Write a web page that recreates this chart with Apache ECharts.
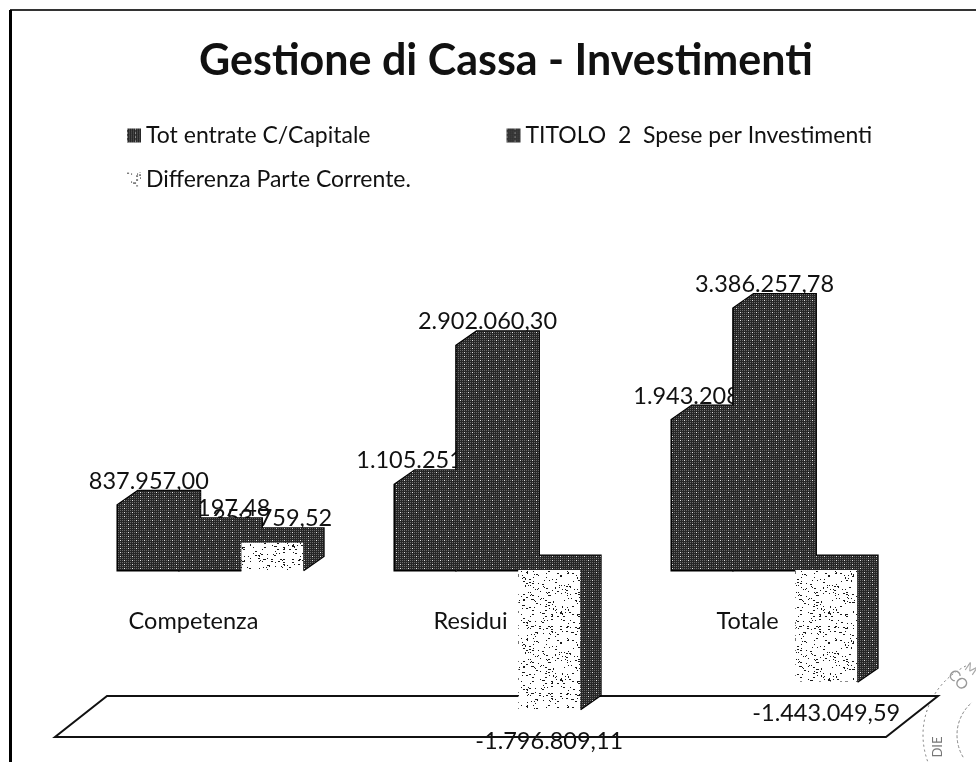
<!DOCTYPE html>
<html>
<head>
<meta charset="utf-8">
<style>html,body{margin:0;padding:0;background:#fff}#c{width:976px;height:762px}</style>
<script src="https://cdn.jsdelivr.net/npm/echarts@6/dist/echarts.min.js"></script>
</head>
<body>
<div id="c"></div>
<script>
const categories = ['Competenza', 'Residui', 'Totale'];
const entrate = [837957.00, 1105251.19, 1943208.19];
const spese = [484197.48, 2902060.30, 3386257.78];
const differenza = [353759.52, -1796809.11, -1443049.59];
const seriesNames = ['Tot entrate C/Capitale', 'TITOLO  2  Spese per Investimenti', 'Differenza Parte Corrente.'];
const axisMin = -2160000;
const axisMax = 4000000;

function fmt(v) {
  const s = Math.abs(v).toFixed(2).split('.');
  return (v < 0 ? '-' : '') + s[0].replace(/\B(?=(\d{3})+$)/g, '.') + ',' + s[1];
}
// scan-like textures (surface styling only, not data)
function darkTile() {
  const c = document.createElement('canvas'); c.width = c.height = 60;
  const g = c.getContext('2d');
  g.fillStyle = '#262626'; g.fillRect(0, 0, 60, 60);
  for (let y = 0; y < 60; y++) for (let x = 0; x < 60; x++) {
    if ((x + y) % 2 === 0 && y % 2 === 0) { g.fillStyle = '#6a6a6a'; g.fillRect(x, y, 1, 1); }
    if (x % 4 === 0 && y % 4 === 0 && (x * 7 + y * 3) % 11 < 5) { g.fillStyle = '#e6e6e6'; g.fillRect(x, y, 1, 1); }
  }
  return c;
}
function stippleTile() {
  const c = document.createElement('canvas'); c.width = c.height = 67;
  const g = c.getContext('2d');
  g.fillStyle = '#fff'; g.fillRect(0, 0, 67, 67);
  g.fillStyle = '#1a1a1a';
  for (let y = 0; y < 67; y++) for (let x = 0; x < 67; x++) {
    if ((x * x * 13 + y * y * 29 + x * y * 5 + x * 3) % 67 < 4) g.fillRect(x, y, (x % 3 === 0) ? 2 : 1, 1);
  }
  return c;
}
const darkFill = { image: darkTile(), repeat: 'repeat' };
const stippleFill = { image: stippleTile(), repeat: 'repeat' };
const labelFont = '23.5px Lato';
const layerOf = [11, 10, 12];

function barRenderer(idx, frontFill) {
  return function (params, api) {
    const i = api.value(0), v = api.value(1);
    const band = api.size([1, 0])[0];
    const w = band * 0.2228, dx = w * 0.325, dy = 14;
    const base = api.coord([i, 0]);
    const top = api.coord([i, v]);
    const x0 = base[0] - band * 0.2727 + idx * w, x1 = x0 + w;
    const yb = base[1], yt = top[1];
    const hiY = Math.min(yb, yt), loY = Math.max(yb, yt);
    const z = layerOf[idx];
    const outlinePts = idx === 2
      ? [[x0 + dx, hiY - dy], [x1 + dx, hiY - dy], [x1 + dx, loY - dy], [x1, loY]]
      : [[x1, loY], [x0, loY], [x0, hiY], [x0 + dx, hiY - dy], [x1 + dx, hiY - dy], [x1 + dx, loY - dy]];
    const seam = { stroke: darkFill, lineWidth: 1 };
    const children = [
      { type: 'text', z2: 1, style: {
        text: fmt(v), x: (x0 + x1) / 2, y: v >= 0 ? yt - 24 : yt + 32,
        align: 'center', verticalAlign: 'middle', font: labelFont, fill: '#111' } },
      { type: 'polyline', z2: 5, shape: { points: outlinePts }, style: { stroke: '#000', lineWidth: 3, fill: 'none' } },
      { type: 'polygon', z2: z, shape: { points: [[x1, yb], [x1 + dx, yb - dy], [x1 + dx, yt - dy], [x1, yt]] },
        style: Object.assign({ fill: darkFill }, seam) },
      { type: 'polygon', z2: z, shape: { points: [[x0, hiY], [x0 + dx, hiY - dy], [x1 + dx, hiY - dy], [x1, hiY]] },
        style: Object.assign({ fill: darkFill }, seam) },
      { type: 'rect', z2: z, shape: { x: x0, y: hiY, width: w, height: loY - hiY }, style: { fill: frontFill } }
    ];
    return { type: 'group', children };
  };
}
function floorRenderer(params) {
  const r = params.coordSys;
  const yf = r.y + r.height, dx = 52, dy = 41;
  return { type: 'polygon', z2: 0,
    shape: { points: [[r.x, yf], [r.x + r.width, yf], [r.x + r.width + dx, yf - dy], [r.x + dx, yf - dy]] },
    style: { fill: '#fff', stroke: '#111', lineWidth: 2 } };
}
function rows(arr) { return arr.map((v, i) => [i, v]); }

const chart = echarts.init(document.getElementById('c'), null, { renderer: 'canvas' });
chart.setOption({
  animation: false,
  backgroundColor: '#fff',
  title: { text: 'Gestione di Cassa - Investimenti', left: 501, textAlign: 'center', top: 35,
    textStyle: { fontFamily: 'Lato', fontWeight: 'bold', fontSize: 43, color: '#111' } },
  legend: [
    { data: seriesNames.slice(0, 2), left: 122, top: 119, itemWidth: 14, itemHeight: 14, itemGap: 136, icon: 'rect',
      textStyle: { fontFamily: 'Lato', fontSize: 23, color: '#111' } },
    { data: seriesNames.slice(2), left: 122, top: 163, itemWidth: 14, itemHeight: 14, icon: 'rect',
      textStyle: { fontFamily: 'Lato', fontSize: 23, color: '#111' } }
  ],
  grid: { left: 55, width: 831, top: 261, height: 476, outerBoundsMode: 'none' },
  xAxis: { type: 'category', data: categories,
    axisLine: { show: false, onZero: false }, axisTick: { show: false },
    axisLabel: { margin: -128, fontFamily: 'Lato', fontSize: 23.5, color: '#111' } },
  yAxis: { type: 'value', min: axisMin, max: axisMax, show: false, splitLine: { show: false } },
  series: [
    { type: 'custom', name: 'floor', data: [[0, axisMin]], renderItem: floorRenderer, silent: true, encode: { x: 0, y: 1 } },
    { type: 'custom', name: seriesNames[0], data: rows(entrate), itemStyle: { color: darkFill }, renderItem: barRenderer(0, darkFill), encode: { x: 0, y: 1 } },
    { type: 'custom', name: seriesNames[1], data: rows(spese), itemStyle: { color: darkFill }, renderItem: barRenderer(1, darkFill), encode: { x: 0, y: 1 } },
    { type: 'custom', name: seriesNames[2], data: rows(differenza), itemStyle: { color: stippleFill }, renderItem: barRenderer(2, stippleFill), encode: { x: 0, y: 1 } }
  ],
  graphic: [
    { type: 'line', shape: { x1: 10, y1: 10, x2: 976, y2: 10 }, style: { stroke: '#333', lineWidth: 2 }, silent: true },
    { type: 'line', shape: { x1: 10.5, y1: 10, x2: 10.5, y2: 762 }, style: { stroke: '#000', lineWidth: 3 }, silent: true },
    { type: 'arc', shape: { cx: 1000, cy: 735, r: 77, startAngle: 2.6, endAngle: 4.3 }, style: { stroke: '#777', fill: 'none', lineWidth: 1, lineDash: [2, 3] }, silent: true },
    { type: 'arc', shape: { cx: 1000, cy: 735, r: 43, startAngle: 2.6, endAngle: 4.0 }, style: { stroke: '#888', fill: 'none', lineWidth: 1, lineDash: [3, 2] }, silent: true },
    { type: 'text', x: 938, y: 747, rotation: Math.PI / 2, silent: true, style: { text: 'DIE', font: '13px Lato', fill: '#777', align: 'center', verticalAlign: 'middle' } },
    { type: 'text', x: 958, y: 680, rotation: -0.85, silent: true, style: { text: 'CO', font: '15px Lato', fill: '#999', align: 'center', verticalAlign: 'middle' } },
    { type: 'text', x: 971, y: 669, rotation: -0.6, silent: true, style: { text: 'M', font: '13px Lato', fill: '#aaa', align: 'center', verticalAlign: 'middle' } }
  ]
});
</script>
</body>
</html>
